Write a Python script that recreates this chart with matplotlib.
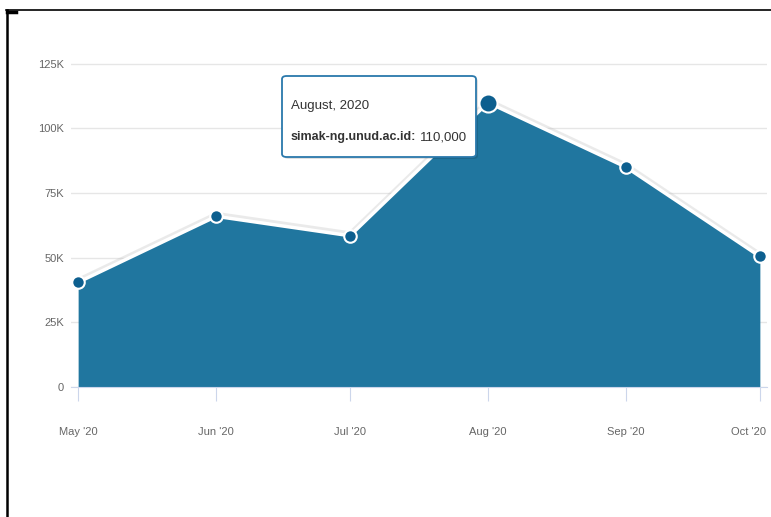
import matplotlib
matplotlib.use('Agg')
import matplotlib.pyplot as plt
import matplotlib.patheffects as pe
import matplotlib.transforms as mtrans
from matplotlib.patches import FancyBboxPatch
from matplotlib.lines import Line2D
import pandas as pd

plt.rcParams['font.family'] = ['Liberation Sans', 'DejaVu Sans']

months = pd.to_datetime(['2020-05-01', '2020-06-01', '2020-07-01',
                         '2020-08-01', '2020-09-01', '2020-10-01'])
visits = [40500, 66000, 58500, 110000, 85000, 50500]
month_labels = ["May '20", "Jun '20", "Jul '20", "Aug '20", "Sep '20", "Oct '20"]
yticks = [0, 25000, 50000, 75000, 100000, 125000]
ylabels = ['0', '25K', '50K', '75K', '100K', '125K']

W, H = 771, 517
fig = plt.figure(figsize=(W / 100, H / 100), dpi=100)
# axes placed in pixel terms
left, right, bottom, top = 71, 767, 387, 56
ax = fig.add_axes([left / W, 1 - bottom / H, (right - left) / W, (bottom - top) / H])

fill_c = '#20769f'
ax.fill_between(months, visits, 0, color=fill_c, lw=0, zorder=2)
ax.plot(months, visits, color='white', lw=2.5, zorder=3,
        path_effects=[pe.SimpleLineShadow(offset=(0, 2), shadow_color='#bbbbbb', alpha=0.3),
                      pe.Normal()])
ms = [9] * len(visits)
ms[3] = 13
for d, v, s in zip(months, visits, ms):
    ax.plot(d, v, 'o', ms=s, color='#0d5f8f', mec='white', mew=1.5, zorder=4)

pad = pd.Timedelta(days=1.6)
ax.set_xlim(months[0] - pad, months[-1] + pad)
ax.set_ylim(0, 128000)
ax.set_xticks(months)
ax.set_xticklabels(month_labels)
ax.set_yticks(yticks)
ax.set_yticklabels(ylabels)

ax.grid(axis='y', color='#e6e6e6', lw=1, zorder=1)
ax.set_axisbelow(True)
for s in ['top', 'right', 'left']:
    ax.spines[s].set_visible(False)
ax.spines['bottom'].set_color('#ccd6eb')
ax.tick_params(axis='x', length=10, color='#ccd6eb', labelsize=8, labelcolor='#666666', pad=19)
ax.tick_params(axis='y', length=0, labelsize=8, labelcolor='#666666', pad=5)

# keep the last month label inside the figure
last = ax.get_xticklabels()[-1]
last.set_horizontalalignment('right')
last.set_transform(last.get_transform() + mtrans.ScaledTranslation(6 / 100, 0, fig.dpi_scale_trans))

# tooltip
bx0, by0, bx1, by1 = 282, 76, 476, 157
shadow = FancyBboxPatch(((bx0 + 2) / W, 1 - (by1 + 2) / H), (bx1 - bx0) / W, (by1 - by0) / H,
                        boxstyle='round,pad=0,rounding_size=0.006', transform=fig.transFigure,
                        fc='#000000', alpha=0.12, ec='none', zorder=9)
box = FancyBboxPatch((bx0 / W, 1 - by1 / H), (bx1 - bx0) / W, (by1 - by0) / H,
                     boxstyle='round,pad=0,rounding_size=0.006', transform=fig.transFigure,
                     fc='white', ec='#2a78ab', lw=1.3, zorder=10)
fig.add_artist(shadow)
fig.add_artist(box)
fig.text(291 / W, 1 - 106 / H, 'August, 2020', fontsize=9.5, color='#333333',
         va='center', zorder=11)
t1 = fig.text(291 / W, 1 - 137 / H, 'simak-ng.unud.ac.id:', fontsize=9, color='#333333',
              weight='bold', va='center', zorder=11)
r = fig.canvas.get_renderer()
bb = t1.get_window_extent(r)
fig.text((bb.x1 + 4) / W, 1 - 137 / H, '110,000', fontsize=9.5, color='#333333',
         va='center', zorder=11)

# page border lines
fig.add_artist(Line2D([6 / W, 1], [1 - 10 / H, 1 - 10 / H], color='black', lw=1.2,
                      transform=fig.transFigure))
fig.add_artist(Line2D([7 / W, 7 / W], [0, 1 - 10 / H], color='black', lw=1.8,
                      transform=fig.transFigure))
fig.add_artist(Line2D([7 / W, 16 / W], [1 - 11.5 / H, 1 - 11.5 / H], color='black', lw=2.5,
                      transform=fig.transFigure))

fig.savefig('out.png', dpi=100)
